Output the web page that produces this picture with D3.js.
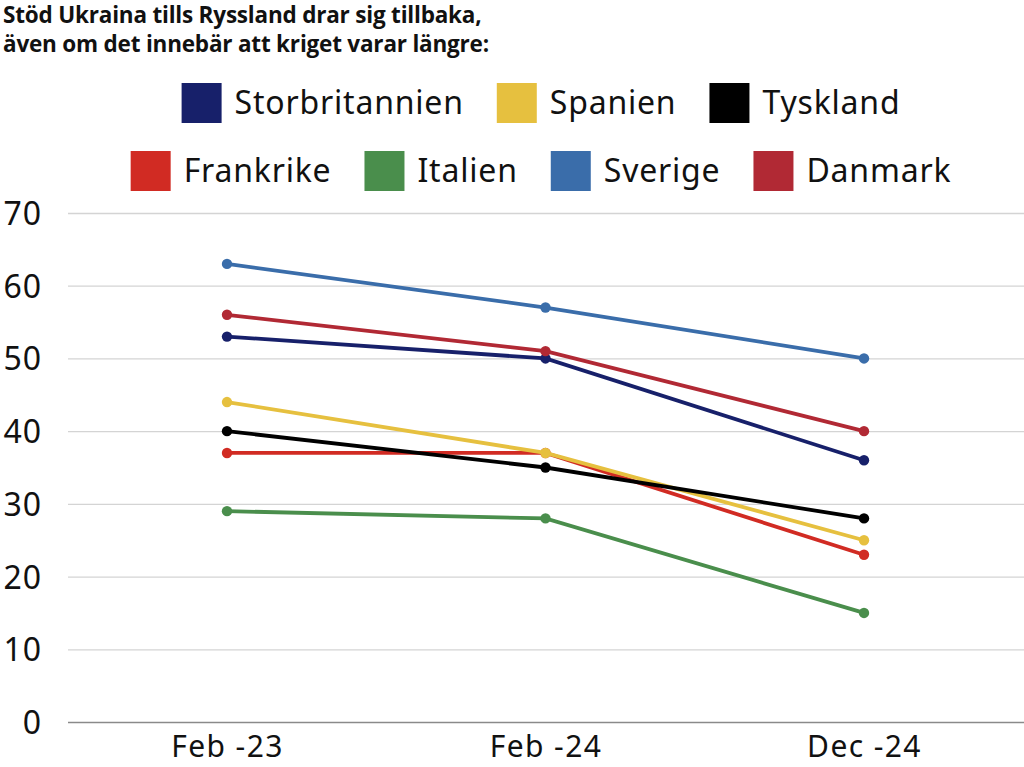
<!DOCTYPE html>
<html>
<head>
<meta charset="utf-8">
<script src="https://cdn.jsdelivr.net/npm/d3@7"></script>
<style>
  body { margin: 0; background: #fff; }
  svg { display: block; }
</style>
</head>
<body>
<script>
var periods = ["Feb -23", "Feb -24", "Dec -24"]
var countries = ["Storbritannien", "Spanien", "Tyskland", "Frankrike", "Italien", "Sverige", "Danmark"]
var colors = ["#17206a", "#e6c03f", "#000000", "#d12b23", "#4a8e4c", "#3a6daa", "#b12934"]

var storbritannien = [53, 50, 36]
var spanien = [44, 37, 25]
var tyskland = [40, 35, 28]
var frankrike = [37, 37, 23]
var italien = [29, 28, 15]
var sverige = [63, 57, 50]
var danmark = [56, 51, 40]

var yTicks = [0, 10, 20, 30, 40, 50, 60, 70]
var legendRows = [["Storbritannien", "Spanien", "Tyskland"], ["Frankrike", "Italien", "Sverige", "Danmark"]]

var series = [storbritannien, spanien, tyskland, frankrike, italien, sverige, danmark]
var dataset = countries.map((c, i) => ({ name: c, values: series[i] }))
// draw order so that the overlaps look like the original
var drawOrder = ["Italien", "Frankrike", "Spanien", "Tyskland", "Storbritannien", "Danmark", "Sverige"]

var w = 1024
var h = 767
var font = "'Noto Sans', sans-serif"

var svg = d3.select("body")
  .append("svg")
  .attr("width", w)
  .attr("height", h)

var colorScale = d3.scaleOrdinal().domain(countries).range(colors)

// Title
svg.append("g")
  .selectAll("text")
  .data(["Stöd Ukraina tills Ryssland drar sig tillbaka,", "även om det innebär att kriget varar längre:"])
  .enter()
  .append("text")
  .attr("x", 3)
  .attr("y", (d, i) => 23 + i * 29)
  .attr("font-family", "'Open Sans', sans-serif")
  .attr("font-weight", 700)
  .attr("font-size", 22.5)
  .attr("letter-spacing", -0.2)
  .attr("fill", "#111")
  .text(d => d)

// Scales
var xScale = d3.scalePoint()
  .domain(periods)
  .range([227, 864])

var yScale = d3.scaleLinear()
  .domain([0, 70])
  .range([722, 213])

// Grid
var yAxis = d3.axisLeft(yScale)
  .tickValues(yTicks)
  .tickSize(-(w - 68))
  .tickPadding(26)

var gy = svg.append("g")
  .attr("transform", "translate(68,0)")
  .call(yAxis)
gy.select(".domain").remove()
gy.selectAll(".tick line")
  .attr("stroke", d => d === 0 ? "#8a8a8a" : "#d4d4d4")
  .attr("stroke-width", 1.3)
gy.selectAll(".tick text")
  .attr("font-family", font)
  .attr("font-size", 32)
  .attr("letter-spacing", 1)
  .attr("fill", "#111")
  .attr("dy", "0.36em")

var xAxis = d3.axisBottom(xScale).tickSize(0).tickPadding(0)
var gx = svg.append("g")
  .attr("transform", "translate(0,722)")
  .call(xAxis)
gx.select(".domain").remove()
gx.selectAll(".tick text")
  .attr("font-family", font)
  .attr("font-size", 30)
  .attr("letter-spacing", 1.4)
  .attr("fill", "#111")
  .attr("dy", null)
  .attr("y", 35)

// Lines
var line = d3.line()
  .x((d, i) => xScale(periods[i]))
  .y(d => yScale(d))

var ordered = drawOrder.map(n => dataset.find(d => d.name === n))

var groups = svg.append("g")
  .selectAll("g")
  .data(ordered)
  .enter()
  .append("g")

groups.append("path")
  .attr("d", d => line(d.values))
  .attr("fill", "none")
  .attr("stroke", d => colorScale(d.name))
  .attr("stroke-width", 3.8)

groups.selectAll("circle")
  .data(d => d.values.map((v, i) => ({ name: d.name, v: v, i: i })))
  .enter()
  .append("circle")
  .attr("cx", d => xScale(periods[d.i]))
  .attr("cy", d => yScale(d.v))
  .attr("r", 5.2)
  .attr("fill", d => colorScale(d.name))

// Legend
var sw = 40, gapText = 13, gapItem = 33, cx = 541
legendRows.forEach(function(row, r) {
  var g = svg.append("g")
  var y0 = 83 + r * 68
  var x = 0
  row.forEach(function(name) {
    g.append("rect")
      .attr("x", x).attr("y", y0)
      .attr("width", sw).attr("height", sw)
      .attr("fill", colorScale(name))
    var t = g.append("text")
      .attr("x", x + sw + gapText)
      .attr("y", y0 + 31)
      .attr("font-family", font)
      .attr("font-size", 32)
      .attr("letter-spacing", 0.8)
      .attr("fill", "#111")
      .text(name)
    x += sw + gapText + t.node().getComputedTextLength() + gapItem
  })
  var total = x - gapItem
  g.attr("transform", "translate(" + (cx - total / 2) + ",0)")
})
</script>
</body>
</html>
